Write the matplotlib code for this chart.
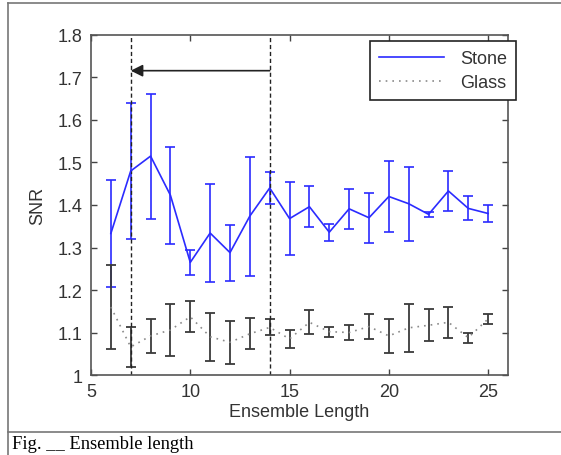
import matplotlib.pyplot as plt
from matplotlib.lines import Line2D

# ensemble lengths
x = [6, 7, 8, 9, 10, 11, 12, 13, 14, 15, 16, 17, 18, 19, 20, 21, 22, 23, 24, 25]

stone = [1.333, 1.480, 1.515, 1.423, 1.265, 1.334, 1.288, 1.374, 1.440, 1.368,
         1.396, 1.336, 1.391, 1.370, 1.420, 1.403, 1.378, 1.433, 1.392, 1.380]
stone_err = [0.125, 0.160, 0.147, 0.114, 0.029, 0.116, 0.066, 0.140, 0.038, 0.086,
             0.048, 0.020, 0.047, 0.059, 0.083, 0.087, 0.006, 0.046, 0.028, 0.019]

glass = [1.160, 1.066, 1.092, 1.106, 1.137, 1.090, 1.077, 1.097, 1.112, 1.085,
         1.124, 1.102, 1.100, 1.114, 1.092, 1.111, 1.117, 1.124, 1.088, 1.132]
glass_err = [0.098, 0.047, 0.040, 0.061, 0.036, 0.056, 0.050, 0.036, 0.019, 0.021,
             0.028, 0.012, 0.017, 0.030, 0.040, 0.057, 0.038, 0.037, 0.012, 0.012]

# markers for the chosen range
range_lines = [7, 14]
arrow_y = 1.716

plt.rcParams['font.family'] = ['Liberation Sans', 'DejaVu Sans']

fig = plt.figure(figsize=(5.61, 4.56), dpi=100)
ax = fig.add_axes([0.1622, 0.1754, 0.7433, 0.7457])

stone_col = '#2b2bff'
glass_line = dict(linestyle=(0, (1, 3)), color='#8a8a8a', lw=1.2)

ax.errorbar(x, stone, yerr=stone_err, color=stone_col, lw=1.2, elinewidth=1.2,
            capsize=3.5, capthick=1.2)
ax.errorbar(x, glass, yerr=glass_err, fmt='none', ecolor='#3a3a3a', elinewidth=1.3,
            capsize=3.5, capthick=1.3)
ax.plot(x, glass, **glass_line)

for xv in range_lines:
    ax.axvline(xv, color='#222222', ls=(0, (3, 2)), lw=1)

ax.annotate('', xy=(range_lines[0], arrow_y), xytext=(range_lines[1], arrow_y),
            arrowprops=dict(arrowstyle='-|>', color='#222222', lw=1.2,
                            mutation_scale=18, shrinkA=0, shrinkB=0))

ax.set_xlim(5, 26)
ax.set_ylim(1, 1.8)
ax.set_xticks([5, 10, 15, 20, 25])
ax.set_yticks([1, 1.1, 1.2, 1.3, 1.4, 1.5, 1.6, 1.7, 1.8])
ax.set_yticklabels(['1', '1.1', '1.2', '1.3', '1.4', '1.5', '1.6', '1.7', '1.8'])
ax.tick_params(direction='in', top=True, right=True, length=4, width=1,
               labelsize=13, labelcolor='#333333', color='#444444', pad=6)
for s in ax.spines.values():
    s.set_color('#555555')
    s.set_linewidth(1.2)

ax.set_xlabel('Ensemble Length', fontsize=13, color='#333333', labelpad=2)
ax.set_ylabel('SNR', fontsize=13, color='#333333', labelpad=8)

handles = [Line2D([], [], color=stone_col, lw=1.2), Line2D([], [], **glass_line)]
leg = ax.legend(handles, ['Stone', 'Glass'], loc='upper right',
                bbox_to_anchor=(516 / 561, 1 - 42 / 456),
                bbox_transform=fig.transFigure, borderaxespad=0, fontsize=13,
                handlelength=3.6, fancybox=False, framealpha=1, edgecolor='#222222',
                borderpad=0.5, labelspacing=0.4, handletextpad=0.9)
leg.get_frame().set_linewidth(1.2)
for t in leg.get_texts():
    t.set_color('#333333')

# frame around the figure and caption
fig.add_artist(Line2D([8 / 561, 1], [1 - 4 / 456, 1 - 4 / 456], color='#777777', lw=1.2))
fig.add_artist(Line2D([8 / 561, 8 / 561], [0, 1 - 4 / 456], color='#777777', lw=1.2))
fig.add_artist(Line2D([8 / 561, 1], [1 - 433 / 456, 1 - 433 / 456], color='#777777', lw=1.2))

fig.text(12 / 561, 1 - 445 / 456, 'Fig. __ Ensemble length', fontsize=13.3,
         family='Liberation Serif', va='center', ha='left')

fig.savefig('out.png', dpi=100)
